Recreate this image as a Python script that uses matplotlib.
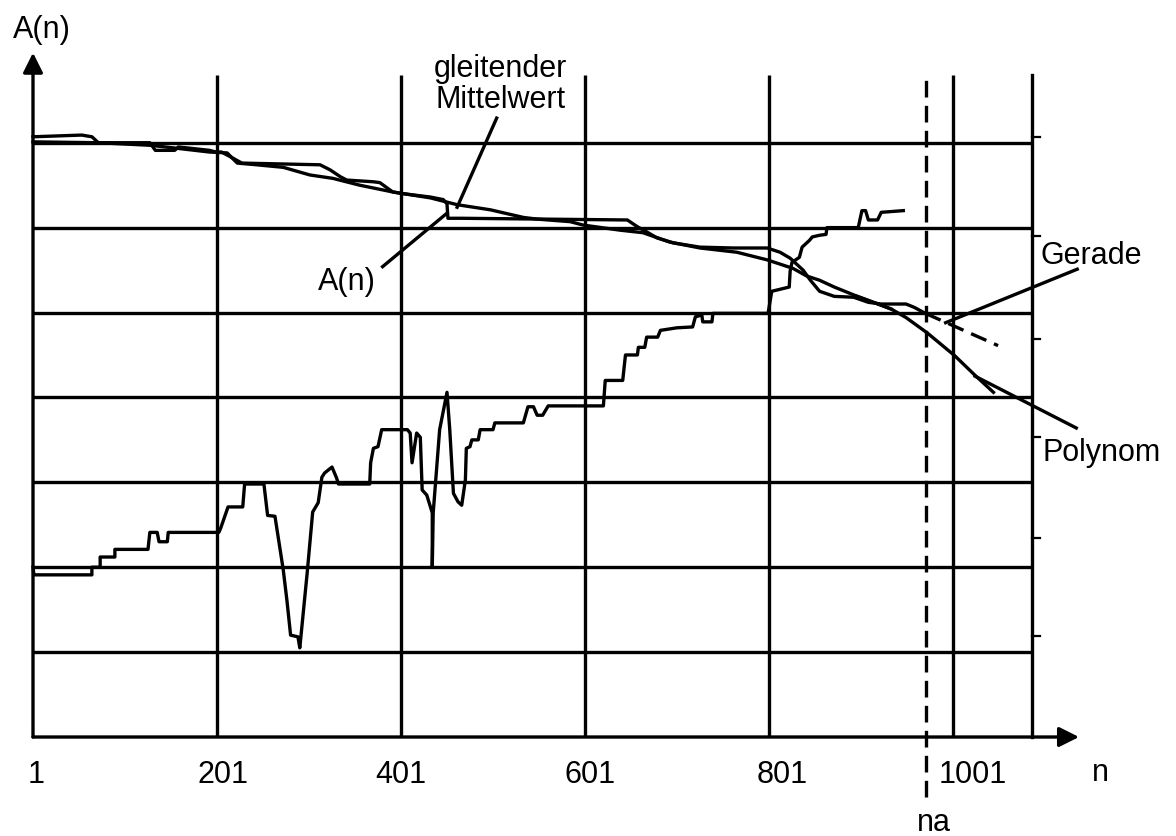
import matplotlib
matplotlib.use("Agg")
import matplotlib.pyplot as plt

plt.rcParams['font.family'] = ['Liberation Sans', 'DejaVu Sans']

# x ticks
tick_values = [1, 201, 401, 601, 801, 1001]
tick_labels = ['1', '201', '401', '601', '801', '1001']
tick_label_pos = [4, 207, 401, 606, 815, 1022]
grid_rows = [1, 2, 3, 4, 5, 6, 7]
right_ticks = [1.19, 2.34, 3.53, 4.69, 5.90, 7.07]
n_right = 1087
na = 972

# A(n), step-like series
an_n = [1, 54, 65, 72, 128, 134, 155, 159, 193, 200, 206, 218, 228, 313, 324,
        335, 342, 371, 378, 392, 403, 433, 447, 451, 452, 467, 647, 658, 668,
        679, 697, 726, 762, 799, 813, 824, 838, 846, 856, 872, 893, 909, 923,
        950, 959, 971]
an_v = [7.07, 7.09, 7.07, 7.00, 7.00, 6.91, 6.91, 6.95, 6.91, 6.89, 6.89, 6.82,
        6.76, 6.74, 6.68, 6.60, 6.56, 6.54, 6.53, 6.42, 6.40, 6.36, 6.33, 6.28,
        6.11, 6.11, 6.09, 6.01, 5.95, 5.88, 5.82, 5.77, 5.76, 5.76, 5.71, 5.64,
        5.50, 5.38, 5.25, 5.19, 5.18, 5.12, 5.10, 5.10, 5.06, 4.99]

# gleitender Mittelwert
ma_n = [1, 72, 128, 153, 193, 212, 223, 244, 273, 302, 327, 356, 392, 433, 462,
        498, 534, 549, 585, 599, 639, 664, 693, 726, 766, 799, 827, 842, 856,
        872, 897, 922, 934]
ma_v = [7.01, 7.00, 6.97, 6.94, 6.89, 6.88, 6.76, 6.74, 6.71, 6.62, 6.58, 6.50,
        6.42, 6.35, 6.27, 6.21, 6.12, 6.10, 6.07, 6.03, 5.97, 5.94, 5.83, 5.76,
        5.71, 5.62, 5.52, 5.43, 5.38, 5.30, 5.19, 5.09, 5.04]

# Gerade (extension after na) and Polynom
ger_n = [971, 1050]
ger_v = [4.99, 4.61]
pol_n = [897, 922, 934, 950, 973, 1003, 1025, 1045]
pol_v = [5.19, 5.09, 5.04, 4.94, 4.76, 4.49, 4.26, 4.06]

# lower series
low_n = [1, 2, 65, 65, 74, 74, 90, 90, 126, 128, 136, 138, 147, 148, 203, 205,
         213, 229, 231, 252, 256, 264, 273, 277, 281, 289, 291, 294, 299, 305,
         311, 315, 318, 326, 331, 333, 367, 368, 371, 376, 380, 402, 408, 411,
         413, 418, 422, 424, 429, 435, 435, 436, 443, 451, 454, 458, 463, 467,
         471, 472, 476, 478, 485, 487, 501, 503, 534, 539, 545, 549, 555, 561,
         621, 623, 642, 645, 658, 659, 666, 668, 680, 683, 701, 718, 721, 728,
         729, 739, 740, 800, 804, 823, 824, 826, 834, 837, 840, 845, 848, 856,
         863, 864, 898, 902, 906, 909, 919, 923, 947]
low_v = [2.00, 1.91, 1.91, 2.00, 2.00, 2.12, 2.12, 2.21, 2.21, 2.41, 2.41, 2.30,
         2.30, 2.41, 2.41, 2.46, 2.71, 2.71, 2.98, 2.98, 2.61, 2.60, 1.97, 1.61,
         1.20, 1.18, 1.05, 1.38, 1.93, 2.65, 2.76, 3.06, 3.11, 3.18, 3.05, 2.98,
         2.98, 3.23, 3.40, 3.42, 3.62, 3.62, 3.62, 3.58, 3.23, 3.58, 3.53, 2.91,
         2.85, 2.64, 2.00, 2.64, 3.62, 4.06, 3.62, 2.87, 2.77, 2.73, 3.03, 3.40,
         3.42, 3.50, 3.50, 3.62, 3.62, 3.70, 3.70, 3.89, 3.89, 3.79, 3.79, 3.90,
         3.90, 4.20, 4.20, 4.50, 4.50, 4.59, 4.59, 4.71, 4.71, 4.79, 4.82, 4.83,
         4.95, 4.97, 4.89, 4.89, 4.99, 4.99, 5.25, 5.30, 5.49, 5.59, 5.65, 5.77,
         5.80, 5.85, 5.89, 5.91, 5.92, 6.00, 6.00, 6.20, 6.20, 6.09, 6.09, 6.18,
         6.20]

LW = 2.4
FS = 22

fig = plt.figure(figsize=(11.76, 8.36), dpi=100)
ax = fig.add_axes([0, 0, 1, 1])
ax.set_xlim(-34.87, 1243.4)
ax.set_ylim(-1.166, 8.681)
ax.axis('off')

# grid
for y in grid_rows:
    ax.plot([1, n_right], [y, y], color='k', lw=LW, solid_capstyle='butt')
for x in tick_values[1:]:
    ax.plot([x, x], [0, 7.8], color='k', lw=LW, solid_capstyle='butt')
ax.plot([n_right, n_right], [0, 7.8], color='k', lw=LW)
for y in right_ticks:
    ax.plot([n_right, n_right + 9], [y, y], color='k', lw=1.6)

# axes with arrows
arrow = dict(arrowstyle='-|>', color='k', lw=LW, mutation_scale=30,
             shrinkA=0, shrinkB=0)
ax.annotate('', xy=(1, 8.06), xytext=(1, 0), arrowprops=arrow)
ax.annotate('', xy=(1138, 0), xytext=(1, 0), arrowprops=arrow)

# na
ax.plot([na, na], [-0.71, 7.8], color='k', lw=LW, ls=(0, (5, 2.5)))

# data
ax.plot(low_n, low_v, color='k', lw=LW, solid_joinstyle='round')
ax.plot(an_n, an_v, color='k', lw=LW, solid_joinstyle='round')
ax.plot(ma_n, ma_v, color='k', lw=LW, solid_joinstyle='round')
ax.plot(pol_n, pol_v, color='k', lw=LW)
ax.plot(ger_n, ger_v, color='k', lw=LW, ls=(0, (5, 2.5)))

# labels and pointers
ax.text(509, 7.69, 'gleitender\nMittelwert', ha='center', va='center',
        fontsize=FS, linespacing=1.05)
ax.plot([505, 462], [7.29, 6.24], color='k', lw=LW)
ax.text(342, 5.36, 'A(n)', ha='center', va='center', fontsize=FS)
ax.plot([381, 451], [5.54, 6.17], color='k', lw=LW)
ax.text(1151, 5.67, 'Gerade', ha='center', va='center', fontsize=FS)
ax.plot([1136, 993], [5.51, 4.88], color='k', lw=LW)
ax.text(1163, 3.35, 'Polynom', ha='center', va='center', fontsize=FS)
ax.plot([1025, 1135], [4.25, 3.64], color='k', lw=LW)

ax.text(11, 8.33, 'A(n)', ha='center', va='center', fontsize=FS)
ax.text(1161, -0.42, 'n', ha='center', va='center', fontsize=FS)
ax.text(980, -1.01, 'na', ha='center', va='center', fontsize=FS)
for pos, lab in zip(tick_label_pos, tick_labels):
    ax.text(pos, -0.45, lab, ha='center', va='center', fontsize=FS)

fig.savefig('out.png', dpi=100)
